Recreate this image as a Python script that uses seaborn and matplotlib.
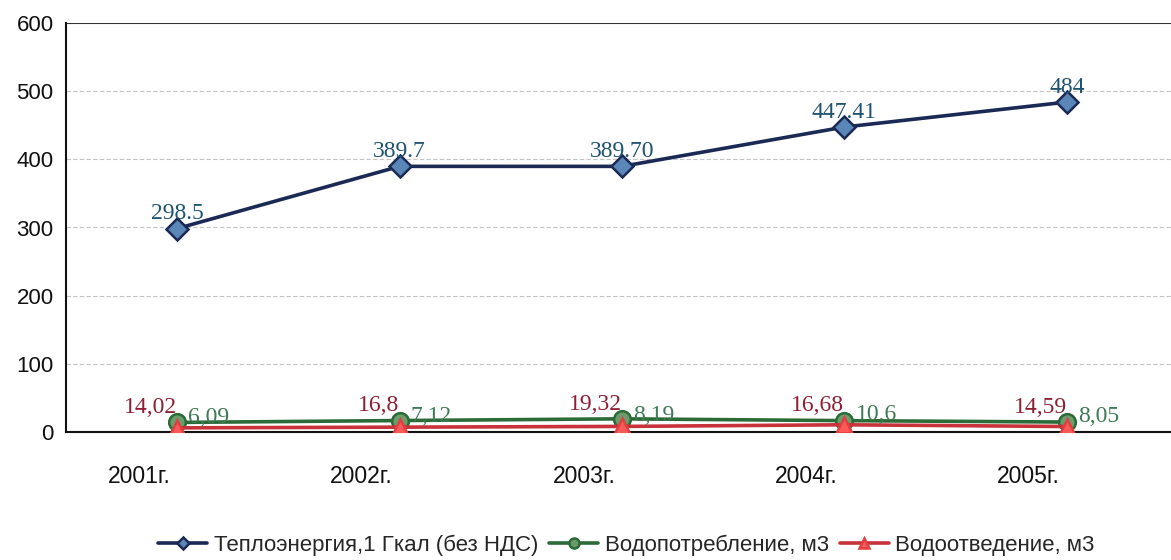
import matplotlib
matplotlib.use("Agg")

import matplotlib.pyplot as plt
import matplotlib.transforms as mtransforms
import pandas as pd
import seaborn as sns

years = ["2001г.", "2002г.", "2003г.", "2004г.", "2005г."]
heat = [298.5, 389.7, 389.70, 447.41, 484]
heat_labels = ["298.5", "389.7", "389.70", "447.41", "484"]
water_in = [14.02, 16.8, 19.32, 16.68, 14.59]
water_in_labels = ["14,02", "16,8", "19,32", "16,68", "14,59"]
water_out = [6.09, 7.12, 8.19, 10.6, 8.05]
water_out_labels = ["6,09", "7,12", "8,19", "10,6", "8,05"]

names = ["Теплоэнергия,1 Гкал (без НДС)", "Водопотребление, м3", "Водоотведение, м3"]

df = pd.DataFrame({
    "year": years * 3,
    "value": heat + water_in + water_out,
    "series": [names[0]] * 5 + [names[1]] * 5 + [names[2]] * 5,
})

sns.set_style("white")
plt.rcParams["font.family"] = ["Liberation Sans", "DejaVu Sans"]

fig = plt.figure(figsize=(11.71, 5.6), dpi=100)
ax = fig.add_axes([66 / 1171, 1 - 432 / 560, 1112 / 1171, (432 - 23) / 560])

styles = {
    names[0]: dict(color="#1b2a55", marker="D", markersize=11, mfc="#5a86b8", mec="#1b2a55"),
    names[1]: dict(color="#2b6b37", marker="o", markersize=12, mfc="#6c9c6c", mec="#2b6b37"),
    names[2]: dict(color="#c8323a", marker="^", markersize=12, mfc="#ff5a5a", mec="#e04040"),
}
for name in names:
    st = styles[name]
    sns.lineplot(data=df[df["series"] == name], x="year", y="value", ax=ax,
                 color=st["color"], marker=st["marker"], markersize=st["markersize"],
                 markerfacecolor=st["mfc"], markeredgecolor=st["mec"], markeredgewidth=1.8,
                 linewidth=2.6, label=name, zorder=3)

serif = ["Liberation Serif", "DejaVu Serif"]
for i in range(len(years)):
    ax.annotate(heat_labels[i], (i, heat[i]), xytext=(0, 3), textcoords="offset points",
                ha="center", va="bottom", fontsize=17, color="#1f5470", family=serif)
    ax.annotate(water_in_labels[i], (i, water_in[i]), xytext=(0, 3), textcoords="offset points",
                ha="right", va="bottom", fontsize=17, color="#8e1f33", family=serif)
    ax.annotate(water_out_labels[i], (i, water_out[i]), xytext=(8, 0), textcoords="offset points",
                ha="left", va="bottom", fontsize=17, color="#3e7a55", family=serif)

ax.set_xlim(-0.5, 4.5)
ax.set_ylim(0, 600)
ax.set_yticks(range(0, 601, 100))
ax.set_xticks([0.5, 1.5, 2.5, 3.5], minor=False)
ax.set_xticklabels([])
ax.set_xticks(range(5), minor=True)
ax.set_xticklabels(years, minor=True, fontsize=16.5, color="#111111")
ax.tick_params(axis="x", which="minor", length=0, pad=24)
ax.tick_params(axis="x", which="major", length=4, direction="out", width=1)
ax.tick_params(axis="y", length=5, direction="out", labelsize=16, labelcolor="#111111", pad=4)
shift = mtransforms.ScaledTranslation(-38 / 100, 0, fig.dpi_scale_trans)
for lab in ax.get_xticklabels(minor=True):
    lab.set_transform(lab.get_transform() + shift)

for y in range(100, 600, 100):
    ax.axhline(y, color="#c4c4c4", linewidth=0.8, linestyle=(0, (4, 2)), zorder=0)
ax.axhline(600, color="#333333", linewidth=1.5, zorder=1)

ax.set_xlabel("")
ax.set_ylabel("")
for side in ["top", "right"]:
    ax.spines[side].set_visible(False)
ax.spines["left"].set_color("#111111")
ax.spines["left"].set_linewidth(1.5)
ax.spines["bottom"].set_color("#111111")
ax.spines["bottom"].set_linewidth(1.5)

handles, labels = ax.get_legend_handles_labels()
ax.legend_.remove()
fig.legend(handles, labels, loc="center", bbox_to_anchor=(0.535, 1 - 545 / 560), ncol=3,
           frameon=False, fontsize=16, handlelength=2.2, columnspacing=0.5, handletextpad=0.3,
           markerscale=0.6)

fig.savefig("out.png", dpi=100)
plt.close(fig)
